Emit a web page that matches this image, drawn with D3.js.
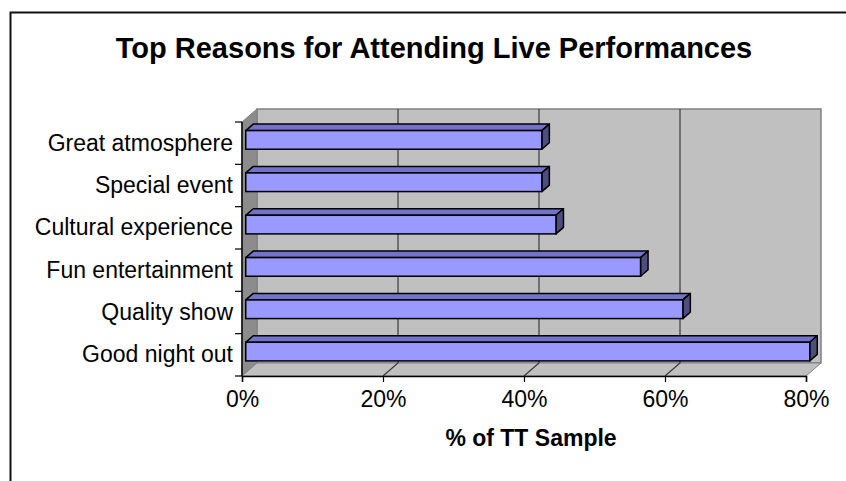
<!DOCTYPE html>
<html>
<head>
<meta charset="utf-8">
<script src="https://cdn.jsdelivr.net/npm/d3@7"></script>
<style>
html,body{margin:0;padding:0;background:#fff;}
svg{display:block;font-family:"Liberation Sans",Arial,sans-serif;}
</style>
</head>
<body>
<svg id="chart" width="846" height="481"></svg>
<script>
const categories = ["Great atmosphere","Special event","Cultural experience","Fun entertainment","Quality show","Good night out"];
const values = [0.42, 0.42, 0.44, 0.56, 0.62, 0.80];
const tickValues = [0, 0.2, 0.4, 0.6, 0.8];
const chartTitle = "Top Reasons for Attending Live Performances";
const xAxisTitle = "% of TT Sample";

const svg = d3.select("#chart");
const W = 846, H = 481;

// frame
svg.append("path").attr("d", `M10.5,${H} V12.5 H${W}`)
  .attr("fill","none").attr("stroke","#111").attr("stroke-width",2);

// geometry
const front = {x0:242, x1:806, y0:122, y1:376};
const D = {dx:15, dy:13};
const x = d3.scaleLinear().domain([0,0.8]).range([front.x0, front.x1]);
const y = d3.scaleBand().domain(categories).range([front.y0, front.y1]).paddingInner(0.56).paddingOuter(0.28);

const g = svg.append("g");

// back wall
g.append("rect").attr("x", front.x0+D.dx).attr("y", front.y0-D.dy)
  .attr("width", front.x1-front.x0).attr("height", front.y1-front.y0)
  .attr("fill","#c0c0c0").attr("stroke","#808080").attr("stroke-width",1.5);
// left wall
g.append("polygon").attr("points", [[front.x0,front.y0],[front.x0+D.dx,front.y0-D.dy],[front.x0+D.dx,front.y1-D.dy],[front.x0,front.y1]].join(" "))
  .attr("fill","#8c8c8c").attr("stroke","#808080");
// floor
g.append("polygon").attr("points", [[front.x0,front.y1],[front.x1,front.y1],[front.x1+D.dx,front.y1-D.dy],[front.x0+D.dx,front.y1-D.dy]].join(" "))
  .attr("fill","#c0c0c0").attr("stroke","#808080");

// gridlines
const grid = tickValues.filter(v => v>0 && v<0.8);
g.selectAll(".grid").data(grid).enter().append("path")
  .attr("d", v => `M${x(v)+D.dx},${front.y0-D.dy} V${front.y1-D.dy} L${x(v)},${front.y1}`)
  .attr("fill","none").attr("stroke","#3a3a3a").attr("stroke-width",1.2);

// bars
const fOff = 0.25, bDepth = 0.5;
const ox = D.dx*fOff, oy = -D.dy*fOff, bdx = D.dx*bDepth, bdy = D.dy*bDepth;
const bars = g.selectAll(".bar").data(categories.map((c,i)=>({c, v:values[i]}))).enter().append("g");
bars.append("polygon").attr("points", d => {
  const xa = x(0)+ox, xb = x(d.v)+ox, yt = y(d.c)+oy;
  return [[xa,yt],[xb,yt],[xb+bdx,yt-bdy],[xa+bdx,yt-bdy]].join(" ");
}).attr("fill","#7373cc").attr("stroke","#000").attr("stroke-width",1.5).attr("stroke-linejoin","round");
bars.append("polygon").attr("points", d => {
  const xb = x(d.v)+ox, yt = y(d.c)+oy, yb = yt + y.bandwidth();
  return [[xb,yt],[xb+bdx,yt-bdy],[xb+bdx,yb-bdy],[xb,yb]].join(" ");
}).attr("fill","#4d4d80").attr("stroke","#000").attr("stroke-width",1.5).attr("stroke-linejoin","round");
bars.append("rect")
  .attr("x", x(0)+ox).attr("y", d => y(d.c)+oy)
  .attr("width", d => x(d.v)-x(0)).attr("height", y.bandwidth())
  .attr("fill","#9999ff").attr("stroke","#000").attr("stroke-width",1.5);

// y axis
const yAxis = d3.axisLeft(y).tickSize(0).tickPadding(9);
const ya = svg.append("g").attr("transform",`translate(${front.x0},0)`).call(yAxis);
ya.select(".domain").remove();
ya.selectAll("text").attr("font-size",23).attr("font-family","'Liberation Sans',Arial,sans-serif").attr("fill","#000");
svg.append("line").attr("x1",front.x0).attr("x2",front.x0).attr("y1",front.y0).attr("y2",front.y1).attr("stroke","#000").attr("stroke-width",1.5);
const bounds = d3.range(categories.length+1).map(i => front.y0 + i*y.step());
svg.selectAll(".ytick").data(bounds).enter().append("line")
  .attr("x1",front.x0-7).attr("x2",front.x0).attr("y1",d=>d).attr("y2",d=>d)
  .attr("stroke","#000").attr("stroke-width",1.2);

// x axis
const xAxis = d3.axisBottom(x).tickValues(tickValues).tickFormat(d3.format(".0%")).tickSize(6).tickPadding(9);
const xa = svg.append("g").attr("transform",`translate(0,${front.y1})`).call(xAxis);
xa.select(".domain").attr("stroke","#000").attr("stroke-width",1.5);
xa.selectAll(".tick line").attr("stroke","#000").attr("stroke-width",1.2);
xa.selectAll("text").attr("font-size",23).attr("font-family","'Liberation Sans',Arial,sans-serif").attr("fill","#000");

// titles
svg.append("text").attr("x",434).attr("y",58).attr("text-anchor","middle")
  .attr("font-size",29).attr("font-weight","bold").text(chartTitle);
svg.append("text").attr("x",531).attr("y",446).attr("text-anchor","middle")
  .attr("font-size",23).attr("font-weight","bold").text(xAxisTitle);
</script>
</body>
</html>
